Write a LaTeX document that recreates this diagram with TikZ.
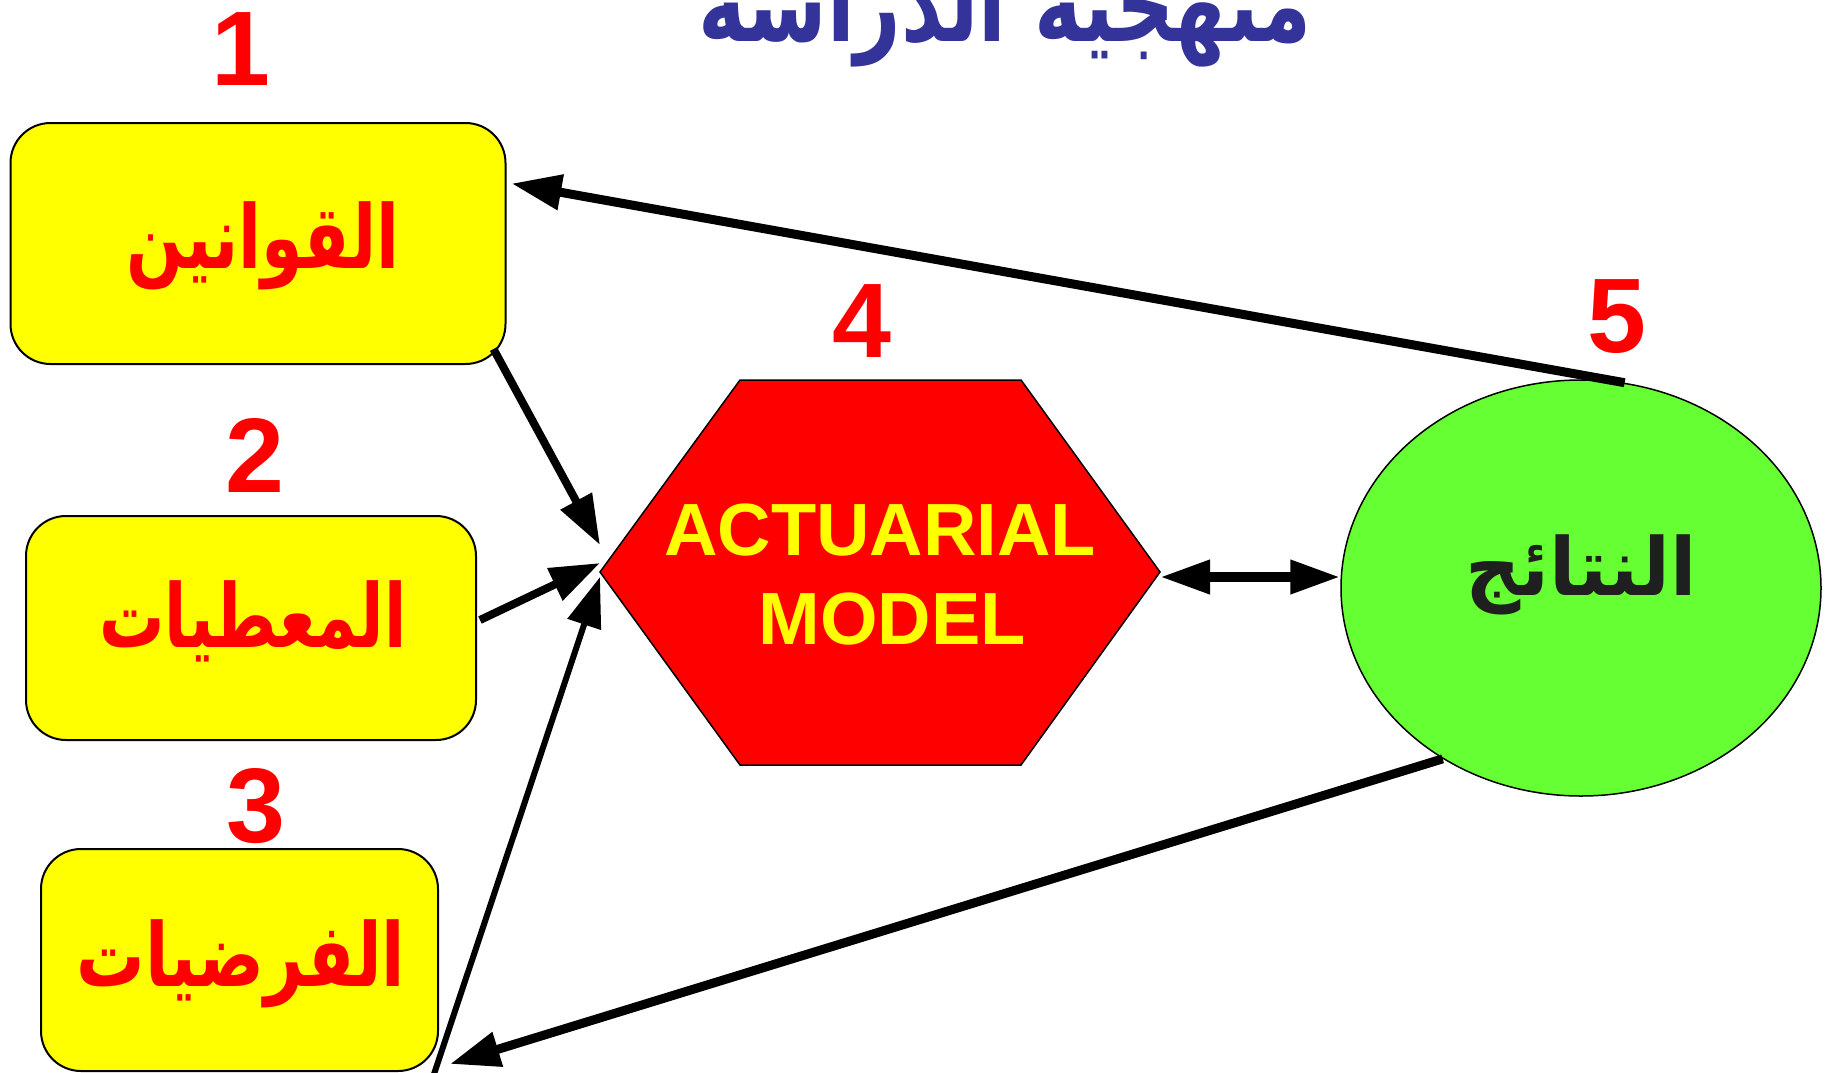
\documentclass[tikz,border=0pt]{standalone}
\usepackage{fontspec}
\setmainfont{Liberation Sans}
\newfontfamily\arabicfont[Script=Arabic]{DejaVu Sans}
\TeXXeTstate=1
\usetikzlibrary{arrows.meta,shapes.geometric}
\definecolor{titleblue}{HTML}{333399}
\definecolor{boxyellow}{HTML}{FFFF00}
\definecolor{hexred}{HTML}{FF0000}
\definecolor{resgreen}{HTML}{66FF33}
\definecolor{darktext}{HTML}{1F1F1F}
\tikzset{
  box/.style={draw=black, line width=2pt, fill=boxyellow, rounded corners=40pt, inner sep=0pt},
  artext/.style={anchor=base, inner sep=0pt, font=\arabicfont\bfseries\fontsize{88}{100}\selectfont, text=hexred},
  num/.style={anchor=base, inner sep=0pt, font=\bfseries\fontsize{106}{120}\selectfont, text=hexred},
  conn/.style={line width=9pt, -{Triangle[length=50pt,width=34pt]}},
}
\begin{document}
\begin{tikzpicture}[x=1pt,y=-1pt]
\clip (0,0) rectangle (1833,1073);
% title
\node[anchor=base, inner sep=0pt, font=\arabicfont\bfseries\fontsize{105}{120}\selectfont, text=titleblue] (title) at (1005,42) {\scalebox{0.77}[1]{\beginR منهجية الدراسة\endR}};
% boxes
\node[box, minimum width=495pt, minimum height=241pt] (b1) at (258,243.5) {};
\node[box, minimum width=450pt, minimum height=224pt] (b2) at (251,628) {};
\node[box, minimum width=397pt, minimum height=222pt] (b3) at (239.5,960) {};
\node[artext] (t1) at (263,268) {\scalebox{0.76}[1]{\beginR القوانين\endR}};
\node[artext] (t2) at (253,647) {\scalebox{0.74}[1]{\beginR المعطيات\endR}};
\node[artext] (t3) at (241,986) {\scalebox{0.775}[1]{\beginR الفرضيات\endR}};
% numbers
\node[num] (n1) at (241,85) {1};
\node[num] (n2) at (255,492) {2};
\node[num] (n3) at (256,842) {3};
\node[num] (n4) at (862,357) {4};
\node[num] (n5) at (1617,352) {5};
% hexagon
\coordinate (hW) at (600,572);
\coordinate (hNW) at (740,380);
\coordinate (hNE) at (1021,380);
\coordinate (hE) at (1160,572);
\coordinate (hSE) at (1021,765);
\coordinate (hSW) at (740,765);
\draw[line width=1.5pt, fill=hexred] (hW) -- (hNW) -- (hNE) -- (hE) -- (hSE) -- (hSW) -- cycle;
\node[anchor=base, inner sep=0pt, font=\bfseries\fontsize{74}{89}\selectfont, text=boxyellow] (m1) at (880,555) {ACTUARIAL};
\node[anchor=base, inner sep=0pt, font=\bfseries\fontsize{74}{89}\selectfont, text=boxyellow] (m2) at (892,644) {MODEL};
% ellipse
\node[ellipse, draw=black, line width=1.5pt, fill=resgreen, minimum width=480pt, minimum height=416pt, inner sep=0pt] (res) at (1581,588) {};
\node[anchor=base, inner sep=0pt, font=\arabicfont\bfseries\fontsize{80}{96}\selectfont, text=darktext] (t5) at (1581,595) {\scalebox{0.96}[1]{\beginR النتائج\endR}};
% connectors
\draw[conn] (res.78) -- ([shift={(5,-60)}]b1.east);
\draw[conn, line width=8pt] ([shift={(-13,-16)}]b1.south east) -- ([shift={(0,-27)}]hW);
\draw[conn, line width=8pt] ([shift={(3,-8)}]b2.east) -- ([shift={(0,-9)}]hW);
\draw[conn, line width=6pt] ([shift={(-5,2)}]b3.south east) -- ([shift={(0,5)}]hW);
\draw[conn] (res.231) -- ([shift={(11,-8)}]b3.south east);
\draw[line width=10pt, {Triangle[length=50pt,width=32pt]}-{Triangle[length=50pt,width=32pt]}] ([shift={(0,5)}]hE) -- ([shift={(0,5)}]hE -| res.west);
\end{tikzpicture}
\end{document}
